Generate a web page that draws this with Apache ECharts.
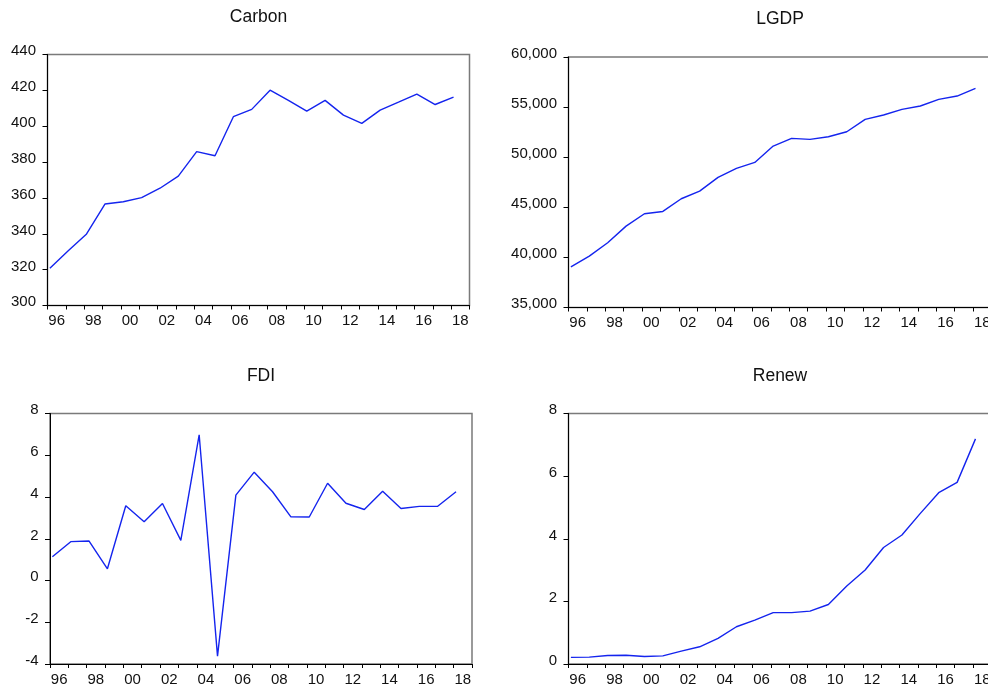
<!DOCTYPE html>
<html>
<head>
<meta charset="utf-8">
<script src="https://cdn.jsdelivr.net/npm/echarts@6/dist/echarts.min.js"></script>
<style>
  html, body { margin: 0; padding: 0; background: #fff; }
  #chart { width: 988px; height: 687px; }
</style>
</head>
<body>
<div id="chart"></div>
<script>
// Annual observations, 1996-2018
const years = [1996, 1997, 1998, 1999, 2000, 2001, 2002, 2003, 2004, 2005, 2006, 2007,
               2008, 2009, 2010, 2011, 2012, 2013, 2014, 2015, 2016, 2017, 2018];
const yearLabels = ['96', '97', '98', '99', '00', '01', '02', '03', '04', '05', '06', '07',
                    '08', '09', '10', '11', '12', '13', '14', '15', '16', '17', '18'];

const carbon = [320.8, 330.5, 339.9, 356.6, 357.9, 360.2, 365.4, 372.2, 385.8, 383.5, 405.3, 409.4,
                420.1, 414.4, 408.4, 414.4, 406.2, 401.6, 409.0, 413.4, 417.9, 412.1, 416.2];
const lgdp = [39061, 40127, 41458, 43123, 44354, 44587, 45852, 46618, 47983, 48882, 49481, 51112,
              51877, 51777, 52044, 52543, 53775, 54208, 54774, 55107, 55772, 56105, 56871];
const fdi = [1.14, 1.86, 1.89, 0.56, 3.58, 2.81, 3.69, 1.92, 6.98, -3.62, 4.09, 5.19,
             4.25, 3.05, 3.04, 4.66, 3.70, 3.40, 4.28, 3.45, 3.55, 3.56, 4.25];
const renew = [0.21, 0.22, 0.27, 0.28, 0.24, 0.26, 0.41, 0.55, 0.82, 1.19, 1.40, 1.64,
               1.64, 1.69, 1.90, 2.49, 3.00, 3.72, 4.12, 4.81, 5.47, 5.80, 7.19];

const panels = [
  { name: 'Carbon', values: carbon, min: 300, max: 440, step: 20,
    box: { left: 47.5, top: 54.5, width: 422, height: 251 }, titleY: 17.4 },
  { name: 'LGDP', values: lgdp, min: 35000, max: 60000, step: 5000, thousands: true,
    box: { left: 568.5, top: 57, width: 423, height: 250.5 }, titleY: 19.4 },
  { name: 'FDI', values: fdi, min: -4, max: 8, step: 2,
    box: { left: 50, top: 413.5, width: 422, height: 250.5 }, titleY: 375.7 },
  { name: 'Renew', values: renew, min: 0, max: 8, step: 2,
    box: { left: 568.5, top: 413.5, width: 423, height: 250.5 }, titleY: 375.7 }
];

const FONT = '"Liberation Sans", Arial, sans-serif';
const LINE_BLUE = '#1424ee';

const grid = [], xAxis = [], yAxis = [], series = [], graphic = [];

panels.forEach((p, i) => {
  grid.push(Object.assign({
    show: true, borderColor: '#7a7a7a', borderWidth: 1.5, backgroundColor: '#fff',
    containLabel: false, outerBoundsMode: 'none'
  }, p.box));

  // Category axis: year bands, tick marks at band edges, labels centred in the band
  xAxis.push({
    type: 'category', gridIndex: i, data: yearLabels, boundaryGap: true, position: 'bottom',
    axisLine: { show: true, onZero: false, lineStyle: { color: '#000', width: 1 } },
    axisTick: { show: true, inside: false, length: 4, interval: 0, lineStyle: { color: '#000', width: 1 } },
    axisLabel: { interval: 1, margin: 8, color: '#111', fontSize: 15, fontFamily: FONT },
    splitLine: { show: false }
  });
  // Value axis carrying the observations (each year plotted near the start of its band)
  xAxis.push({
    type: 'value', gridIndex: i, show: false,
    min: years[0] - 0.13, max: years[years.length - 1] + 0.87,
    axisLine: { onZero: false },
    splitLine: { show: false }
  });

  yAxis.push({
    type: 'value', gridIndex: i, min: p.min, max: p.max, interval: p.step,
    axisLine: { show: true, onZero: false, lineStyle: { color: '#000', width: 1 } },
    axisTick: { show: true, inside: false, length: 5, lineStyle: { color: '#000', width: 1 } },
    axisLabel: {
      margin: 11.5, color: '#111', fontSize: 15, fontFamily: FONT,
      verticalAlign: 'bottom', lineHeight: 6.5,
      formatter: p.thousands ? (v => v.toLocaleString('en-US')) : (v => String(v))
    },
    splitLine: { show: false }
  });

  series.push({
    name: p.name, type: 'line', xAxisIndex: 2 * i + 1, yAxisIndex: i,
    data: years.map((y, k) => [y, p.values[k]]),
    showSymbol: false, symbol: 'none', smooth: false,
    lineStyle: { color: LINE_BLUE, width: 1.4 },
    animation: false
  });

  graphic.push({
    type: 'text', x: p.box.left + p.box.width / 2, y: p.titleY, silent: true,
    style: { text: p.name, fontSize: 17.5, fontFamily: FONT, fill: '#111', align: 'center', verticalAlign: 'middle' }
  });
});

const chart = echarts.init(document.getElementById('chart'), null, { renderer: 'canvas' });
chart.setOption({
  backgroundColor: '#fff',
  animation: false,
  grid, xAxis, yAxis, series, graphic
});
</script>
</body>
</html>
